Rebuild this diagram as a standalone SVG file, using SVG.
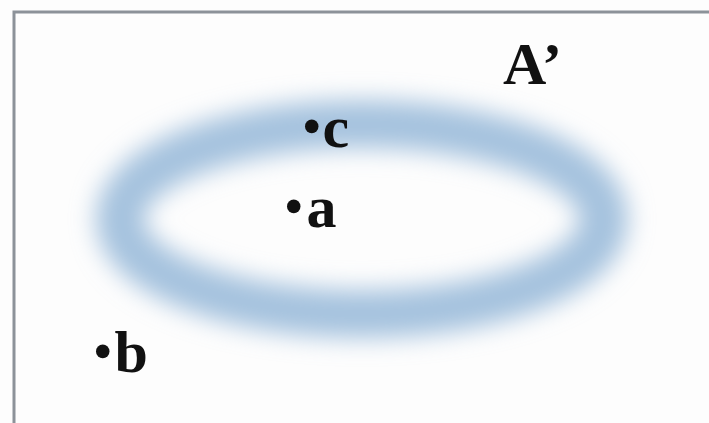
<svg xmlns="http://www.w3.org/2000/svg" width="709" height="423" viewBox="0 0 709 423">
<defs>
<filter id="blur" x="-20%" y="-40%" width="140%" height="180%"><feGaussianBlur stdDeviation="12"/></filter>
<style>
.t{font-family:"Liberation Serif","Times New Roman",serif;font-weight:bold;font-size:60px;fill:#111;}
.bu{font-size:50px;}
</style>
</defs>
<rect x="0" y="0" width="709" height="423" fill="#fdfdfd"/>
<path d="M14 440 V12 H720" fill="none" stroke="#8c9299" stroke-width="3"/>
<g id="ring">
<ellipse cx="362" cy="219" rx="242" ry="95" fill="none" stroke="#a5c2de" stroke-width="48" filter="url(#blur)"/>
</g>
<g id="label-A"><text class="t" x="503" y="84" font-size="64">A’</text></g>
<g id="point-c"><text class="t" x="303" y="147"><tspan class="bu" dy="-4">•</tspan><tspan dy="4" dx="2">c</tspan></text></g>
<g id="point-a"><text class="t" x="285" y="227"><tspan class="bu" dy="-4">•</tspan><tspan dy="4" dx="4">a</tspan></text></g>
<g id="point-b"><text class="t" x="94" y="372"><tspan class="bu" dy="-4">•</tspan><tspan dy="4" dx="3">b</tspan></text></g>
</svg>
